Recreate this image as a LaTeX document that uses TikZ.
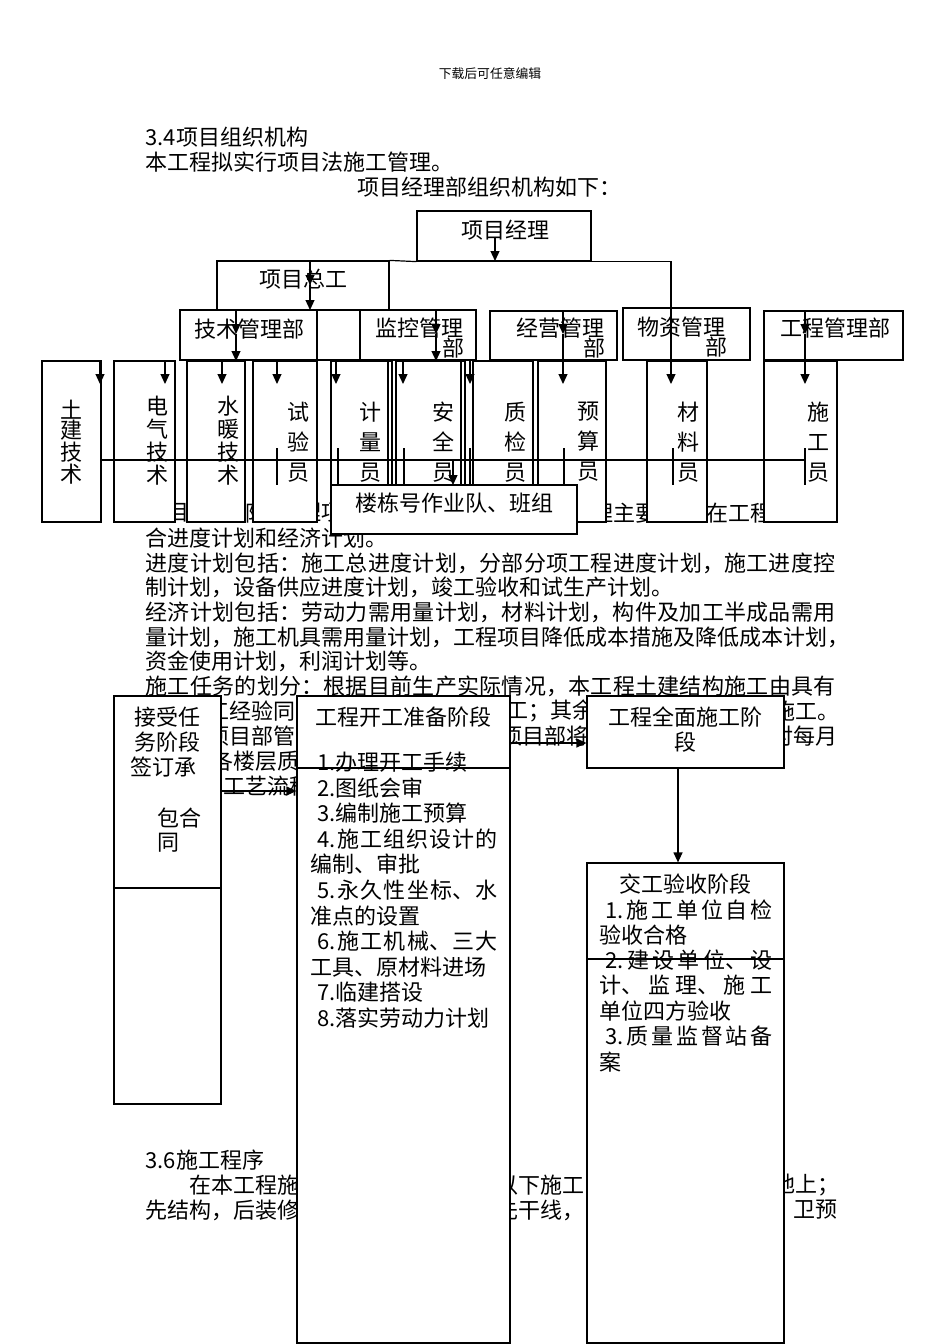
\documentclass[tikz,border=0pt]{standalone}
\usepackage{fontspec}
\setmainfont{Noto Sans CJK SC}
\XeTeXlinebreaklocale "zh"
\XeTeXlinebreakskip=0pt plus 4pt
\usetikzlibrary{arrows.meta,fit,positioning}
\newcommand{\jline}[2]{\parbox{#1}{\parfillskip=0pt\relax #2}}

\begin{document}
\begin{tikzpicture}[x=0.5pt,y=-0.5pt,line width=0.6pt]
  \tikzstyle{every node}=[inner sep=0pt,font=\fontsize{11}{13}\selectfont]
  \tikzstyle{box}=[draw,fill=white,inner sep=0pt]
  \tikzstyle{arr}=[-{Triangle[length=5pt,width=4.5pt]}]
  \tikzstyle{txt}=[anchor=west]
  \tikzstyle{col3}=[align=center,font=\fontsize{11}{15}\selectfont]
  \tikzstyle{col4}=[align=center,font=\fontsize{11}{10}\selectfont]
  \tikzstyle{col4b}=[align=center,font=\fontsize{11}{11.5}\selectfont]
  \useasboundingbox (0,0) rectangle (950,1344);

  % page text
  \node[font=\fontsize{6.4}{7}\selectfont] (head) at (490,74) {下载后可任意编辑};
  \node[txt] (sec34) at (145,137) {3.4项目组织机构};
  \node[txt] (intro) at (145,162) {本工程拟实行项目法施工管理。};
  \node[txt] (orgtitle) at (357,187) {项目经理部组织机构如下：};

  \node[txt] (p1a) at (167,513) {目};
  \node[txt] (p1b) at (233,513) {部};
  \node[txt] (p1c) at (299,513) {理项};
  \node[txt] (p1d) at (591,513) {理主要};
  \node[txt] (p1e) at (706,513) {在工程};
  \node[txt] (p2) at (145,538) {合进度计划和经济计划。};
  \node[txt] (p3) at (145,563) {\jline{345pt}{进度计划包括：施工总进度计划，分部分项工程进度计划，施工进度控}};
  \node[txt] (p4) at (145,587) {制计划，设备供应进度计划，竣工验收和试生产计划。};
  \node[txt] (p5) at (145,612) {\jline{345pt}{经济计划包括：劳动力需用量计划，材料计划，构件及加工半成品需用}};
  \node[txt] (p6) at (145,637) {量计划，施工机具需用量计划，工程项目降低成本措施及降低成本计划，};
  \node[txt] (p7) at (145,661) {资金使用计划，利润计划等。};
  \node[txt] (p8) at (145,686) {\jline{345pt}{施工任务的划分：根据目前生产实际情况，本工程土建结构施工由具有}};
  \node[txt] (p9a) at (207,711) {工经验同};
  \node[txt] (p9b) at (506,711) {工；其余};
  \node[txt] (p9c) at (773,711) {施工。};
  \node[txt] (p10a) at (207,736) {项目部管};
  \node[txt] (p10b) at (500,736) {项目部将};
  \node[txt] (p10c) at (771,736) {对每月};
  \node[txt] (p11) at (211,761) {各楼层质};
  \node[txt] (p12) at (223,786) {工艺流程};
  \node[txt] (sec36) at (145,1160) {3.6施工程序};
  \node[txt] (q1a) at (189,1185) {在本工程施};
  \node[txt] (q1b) at (496,1185) {以下施工};
  \node[txt] (q1c) at (773,1185) {地上；};
  \node[txt] (q2a) at (145,1210) {先结构，后装修};
  \node[txt] (q2b) at (496,1210) {先干线，};
  \node[txt] (q2c) at (793,1210) {卫预};

  % organisation chart
  \node[box,fit={(417,211) (591,261)}] (pm) {};
  \node[box,fit={(217,261) (389,310)}] (zg) {};
  \node[box,fit={(180,310) (317,360)}] (jsb) {};
  \node[box,fit={(317,310) (360,360)}] (blank) {};
  \node[box,fit={(360,310) (476,360)}] (jkb) {};
  \node[box,fit={(490,311) (617,360)}] (jyb) {};
  \node[box,fit={(623,308) (750,360)}] (wzb) {};
  \node[box,fit={(764,311) (903,360)}] (gcb) {};
  \node[box,fit={(42,361) (101,522)}] (tj) {};
  \node[box,fit={(114,361) (175,522)}] (dq) {};
  \node[box,fit={(187,361) (245,522)}] (sn) {};
  \node[box,fit={(253,361) (317,522)}] (sy) {};
  \node[box,fit={(331,361) (388,522)}] (jl) {};
  \node[box,fit={(388,361) (392,522)}] (sp1) {};
  \node[box,fit={(396,361) (461,522)}] (aq) {};
  \node[box,fit={(461,361) (465,522)}] (sp2) {};
  \node[box,fit={(473,361) (533,522)}] (zj) {};
  \node[box,fit={(538,361) (606,522)}] (ys) {};
  \node[box,fit={(647,361) (707,522)}] (cl) {};
  \node[box,fit={(764,361) (837,522)}] (sg) {};
  \node[box,fit={(331,485) (577,534)}] (ldh) {};

  \node (pmt) at (505,230) {项目经理};
  \node (zgt) at (303,279) {项目总工};
  \node (jsbt) at (249,329) {技术管理部};
  \node (jkbt) at (419,328) {监控管理};
  \node (jkbt2) at (453,348) {部};
  \node (jybt) at (560,328) {经营管理};
  \node (jybt2) at (594,348) {部};
  \node (wzbt) at (681,327) {物资管理};
  \node (wzbt2) at (716,347) {部};
  \node (gcbt) at (835,328) {工程管理部};
  \node[col4] (tjt) at (72,442) {土\\建\\技\\术};
  \node[col4b] (dqt) at (157,441) {电\\气\\技\\术};
  \node[col4b] (snt) at (228,441) {水\\暖\\技\\术};
  \node[col3] (syt) at (298,442) {试\\验\\员};
  \node[col3] (jlt) at (370,442) {计\\量\\员};
  \node[col3] (aqt) at (443,442) {安\\全\\员};
  \node[col3] (zjt) at (515,442) {质\\检\\员};
  \node[col3] (yst) at (588,442) {预\\算\\员};
  \node[col3] (clt) at (688,442) {材\\料\\员};
  \node[col3] (sgt) at (818,442) {施\\工\\员};
  \node (ldht) at (454,503) {楼栋号作业队、班组};

  \draw[arr] (495,237) -- (495,261);
  \draw (zg.north east) -- (pm.south west);
  \draw[arr] (pm.south east) -| (671,384);
  \draw[arr] (310,261) -- (310,285);
  \draw[arr] (310,285) -- (310,310);
  \foreach \x in {236,436} {
    \draw[arr] (\x,310) -- (\x,334);
    \draw[arr] (\x,334) -- (\x,361);
  }
  \foreach \x in {563,805} {
    \draw[arr] (\x,311) -- (\x,334);
    \draw[arr] (\x,334) -- (\x,384);
  }
  \foreach \x in {100,165,222,277,336,403,470}
    \draw[arr] (\x,361) -- (\x,384);
  \foreach \x in {101,277,338,404,470,564,673,805}
    \draw (\x,448) -- (\x,485);
  \draw (101,460) -- (805,460);
  \draw[arr] (453,460) -- (453,485);

  % construction stages
  \node[box,fit={(114,696) (221,1104)}] (accept) {};
  \node[box,fit={(297,696) (510,1343)}] (prep) {};
  \node[box,fit={(587,696) (784,768)}] (full) {};
  \node[box,fit={(587,863) (784,1343)}] (hand) {};

  \node (acc1) at (167,717) {接受任};
  \node (acc2) at (167,742) {务阶段};
  \node (acc3) at (163,767) {签订承};
  \node (acc4) at (179,818) {包合};
  \node (acc5) at (168,843) {同};

  \node (prept) at (403,717) {工程开工准备阶段};
  \node[txt] (pr1) at (317,762) {1.办理开工手续};
  \node[txt] (pr2) at (317,788) {2.图纸会审};
  \node[txt] (pr3) at (317,813) {3.编制施工预算};
  \node[txt] (pr4) at (317,839) {\jline{90pt}{4.施工组织设计的}};
  \node[txt] (pr5) at (310,864) {编制、审批};
  \node[txt] (pr6) at (317,890) {\jline{90pt}{5.永久性坐标、水}};
  \node[txt] (pr7) at (310,916) {准点的设置};
  \node[txt] (pr8) at (317,941) {\jline{90pt}{6.施工机械、三大}};
  \node[txt] (pr9) at (310,967) {工具、原材料进场};
  \node[txt] (pr10) at (317,992) {7.临建搭设};
  \node[txt] (pr11) at (317,1018) {8.落实劳动力计划};

  \node (fullt) at (685,717) {工程全面施工阶};
  \node (fullt2) at (685,742) {段};

  \node (handt) at (685,884) {交工验收阶段};
  \node[txt] (hd1) at (605,910) {\jline{83.5pt}{1.施工单位自检}};
  \node[txt] (hd2) at (599,935) {验收合格};
  \node[txt] (hd3) at (605,960) {\jline{83.5pt}{2.建设单位、设}};
  \node[txt] (hd4) at (599,985) {\jline{86.5pt}{计、监理、施工}};
  \node[txt] (hd5) at (599,1011) {单位四方验收};
  \node[txt] (hd6) at (605,1036) {\jline{83.5pt}{3.质量监督站备}};
  \node[txt] (hd7) at (599,1062) {案};

  \draw (accept.west |- 0,888) -- (accept.east |- 0,888);
  \draw (prep.west |- 0,768) -- (prep.east |- 0,768);
  \draw (hand.west |- 0,959) -- (hand.east |- 0,959);
  \draw[arr] (accept.east |- 0,791) -- (prep.west |- 0,791);
  \draw[arr] (prep.east |- 0,743) -- (full.west |- 0,743);
  \draw[arr] (full.south -| 678,0) -- (hand.north -| 678,0);
\end{tikzpicture}
\end{document}
